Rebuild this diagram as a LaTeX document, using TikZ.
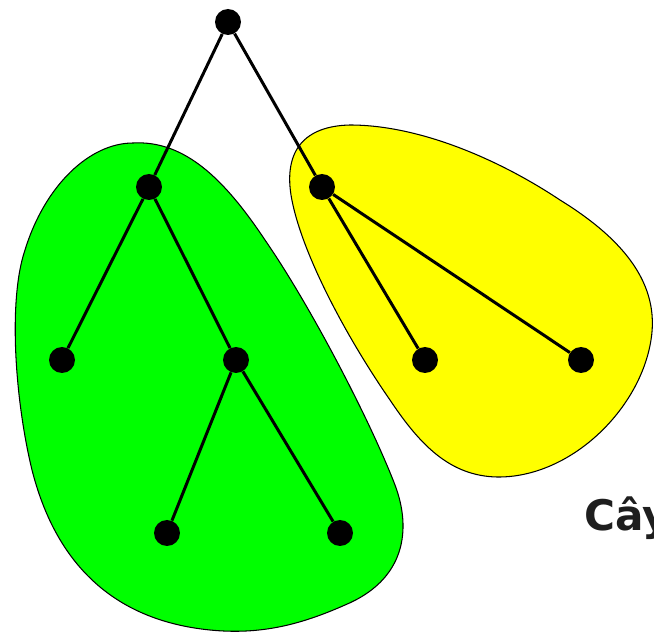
\documentclass[tikz,border=0pt]{standalone}
\usepackage{fontspec}
\newfontfamily\labelfont{DejaVu Sans}
\usetikzlibrary{positioning}

\begin{document}
\begin{tikzpicture}[x=0.02cm, y=-0.02cm,
    vertex/.style={circle, fill=black, inner sep=0pt, minimum size=26*0.02cm},
    edge/.style={line width=1.7pt},
    blob/.style={draw=black, line width=0.6pt}]
  \useasboundingbox (0,0) rectangle (654,635);

  % Green subtree outline
  \draw[blob, fill={rgb,255:red,0;green,255;blue,0}]
    (133,143) .. controls (185,140) and (225,180) .. (265,240)
    .. controls (310,305) and (370,420) .. (395,485)
    .. controls (412,530) and (405,580) .. (345,605)
    .. controls (300,625) and (260,635) .. (210,630)
    .. controls (130,622) and (60,580) .. (32,470)
    .. controls (15,400) and (8,300) .. (25,250)
    .. controls (45,185) and (90,143) .. (133,143) -- cycle;

  % Yellow subtree outline
  \draw[blob, fill={rgb,255:red,255;green,255;blue,0}]
    (350,125) .. controls (420,125) and (500,160) .. (560,200)
    .. controls (625,240) and (660,285) .. (651,340)
    .. controls (640,410) and (570,478) .. (497,477)
    .. controls (450,476) and (420,445) .. (390,400)
    .. controls (345,335) and (300,250) .. (291,195)
    .. controls (284,150) and (305,126) .. (350,125) -- cycle;

  % Vertices
  \node[vertex] (root) at (228,22) {};
  \node[vertex] (a) at (149,187) {};
  \node[vertex] (b) at (322,187) {};
  \node[vertex] (c) at (62,360) {};
  \node[vertex] (d) at (236,360) {};
  \node[vertex] (e) at (425,360) {};
  \node[vertex] (f) at (581,360) {};
  \node[vertex] (g) at (167,533) {};
  \node[vertex] (h) at (340,533) {};

  % Edges
  \draw[edge] (root) -- (a);
  \draw[edge] (root) -- (b);
  \draw[edge] (a) -- (c);
  \draw[edge] (a) -- (d);
  \draw[edge] (d) -- (g);
  \draw[edge] (d) -- (h);
  \draw[edge] (b) -- (e);
  \draw[edge] (b) -- (f);

  % Caption
  \node[anchor=base west, inner sep=0pt, text={rgb,255:red,30;green,30;blue,30}]
    (caption) at (584,531) {\labelfont\bfseries\fontsize{24}{28}\selectfont Cây};
\end{tikzpicture}
\end{document}
